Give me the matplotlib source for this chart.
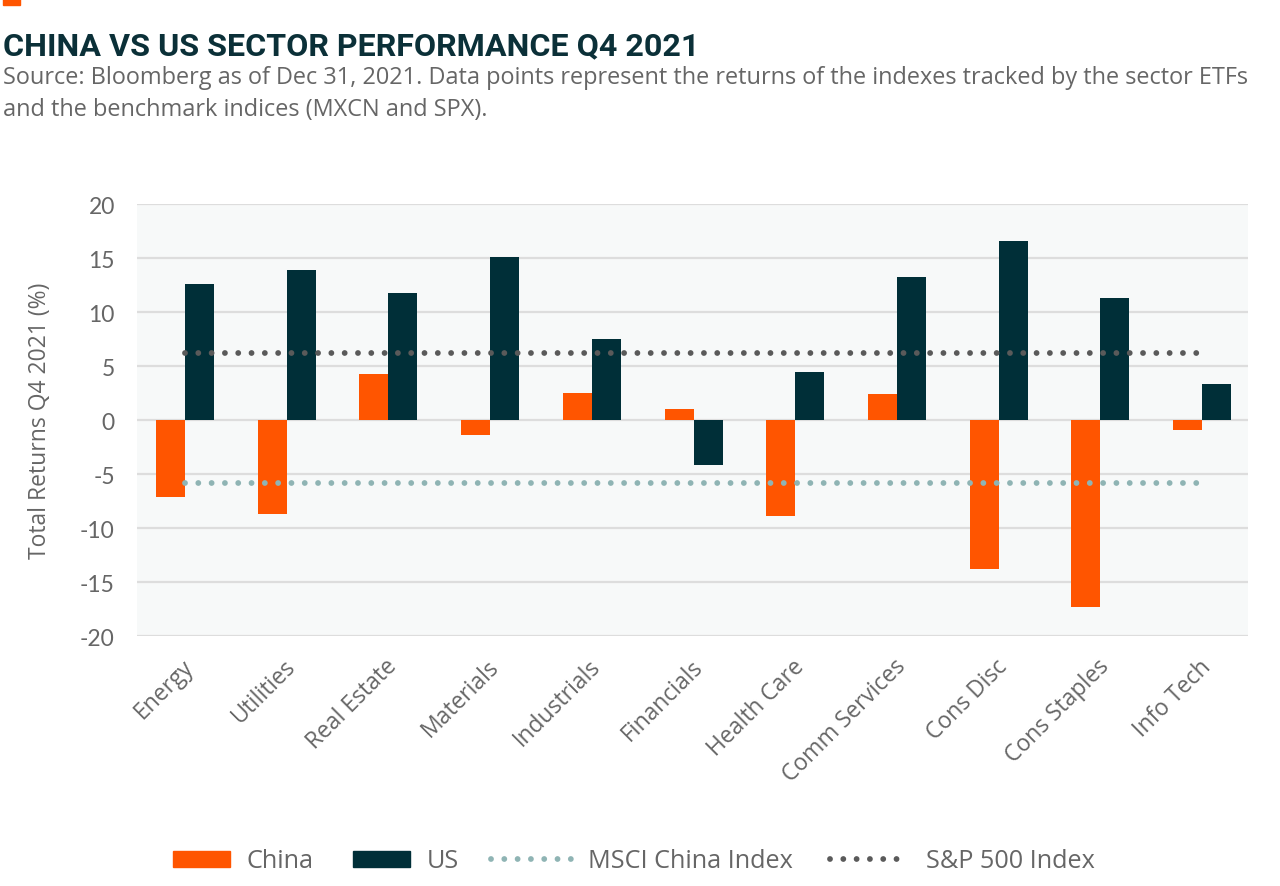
# -*- coding: utf-8 -*-

import numpy as np
import matplotlib as mpl
mpl.use("Agg")
import matplotlib.pyplot as plt
from matplotlib import font_manager
from matplotlib.patches import Patch, Rectangle
from matplotlib.lines import Line2D
import matplotlib.transforms as mtransforms

# 数据
sectors = ['Energy', 'Utilities', 'Real Estate', 'Materials', 'Industrials',
           'Financials', 'Health Care', 'Comm Services', 'Cons Disc',
           'Cons Staples', 'Info Tech']
china = [-7.1, -8.7, 4.3, -1.4, 2.5, 1.0, -8.9, 2.4, -13.8, -17.3, -0.9]
us = [12.6, 13.9, 11.8, 15.1, 7.5, -4.2, 4.4, 13.2, 16.6, 11.3, 3.3]
msci_china = -5.8
sp500 = 6.2
yticks = [20, 15, 10, 5, 0, -5, -10, -15, -20]

title = 'CHINA VS US SECTOR PERFORMANCE Q4 2021'
subtitle1 = ('Source: Bloomberg as of Dec 31, 2021. Data points represent the '
             'returns of the indexes tracked by the sector ETFs')
subtitle2 = 'and the benchmark indices (MXCN and SPX).'
ylabel = 'Total Returns Q4 2021 (%)'

c_china = '#FF5500'
c_us = '#002F38'
c_msci = '#8FB4B4'
c_sp = '#5A5A5A'
c_text = '#666666'
c_title = '#0B3038'

names = {f.name for f in font_manager.fontManager.ttflist}
title_font = 'Roboto' if 'Roboto' in names else 'DejaVu Sans'
body_font = 'Open Sans' if 'Open Sans' in names else 'DejaVu Sans'
num_font = 'Lato' if 'Lato' in names else 'DejaVu Sans'
tick_font = 'Open Sans' if 'Open Sans' in names else 'DejaVu Sans'

dot_style = dict(lw=4.2, linestyle=(0, (0.001, 2.28)), dash_capstyle='round')


def main():
    fig = plt.figure(figsize=(12.8, 8.87), dpi=100)
    ax = fig.add_axes([137 / 1280., 1 - 637 / 887., 1111 / 1280., 432 / 887.])

    x = np.arange(len(sectors))
    bw = 0.285
    ax.bar(x - bw / 2, china, width=bw, color=c_china, zorder=3)
    ax.bar(x + bw / 2, us, width=bw, color=c_us, zorder=3)

    ax.plot([x[0], x[-1]], [msci_china, msci_china], color=c_msci, zorder=4, **dot_style)
    ax.plot([x[0], x[-1]], [sp500, sp500], color=c_sp, zorder=4, **dot_style)

    ax.set_facecolor('#F7F9F9')
    ax.set_xlim(-0.47, 10.45)
    ax.set_ylim(-20, 20)
    ax.set_yticks(yticks)
    ax.set_yticklabels([str(v) for v in yticks], fontsize=16.5,
                       color=c_text, family=num_font)
    ax.yaxis.grid(True, color='#DDDDDD', lw=1.6, zorder=0)
    ax.set_axisbelow(True)
    for s in ax.spines.values():
        s.set_visible(False)
    ax.tick_params(axis='both', length=0)
    ax.tick_params(axis='y', pad=16)

    ax.set_xticks(x)
    ax.set_xticklabels(sectors, rotation=45, ha='right', va='top',
                       rotation_mode='anchor', fontsize=16.5, color=c_text,
                       family=tick_font)
    ax.tick_params(axis='x', pad=13)
    off = mtransforms.ScaledTranslation(-3 / 100., 0, fig.dpi_scale_trans)
    for lab in ax.get_xticklabels():
        lab.set_transform(lab.get_transform() + off)

    ax.set_ylabel(ylabel, fontsize=16.5, color=c_text, family=body_font)
    ax.yaxis.set_label_coords(-0.0765, 0.5)

    # 标题
    fig.patches.append(Rectangle((3 / 1280., 1 - 6 / 887.), 17 / 1280., 6 / 887.,
                                 transform=fig.transFigure, color=c_china))
    fig.text(3 / 1280., 1 - 55 / 887., title, fontsize=23.2, fontweight='bold',
             color=c_title, family=title_font, va='baseline', ha='left')
    fig.text(3 / 1280., 1 - 84 / 887., subtitle1, fontsize=16.9,
             color=c_text, family=body_font, va='baseline', ha='left')
    fig.text(3 / 1280., 1 - 116 / 887., subtitle2, fontsize=16.9,
             color=c_text, family=body_font, va='baseline', ha='left')

    # 图例: 色块和虚线长度不同, 分成两个 legend
    fs = 18.2
    leg_y = 1 - 862 / 887.
    h_bar = [Patch(color=c_china, label='China'), Patch(color=c_us, label='US')]
    h_line = [Line2D([], [], color=c_msci, label='MSCI China Index', **dot_style),
              Line2D([], [], color=c_sp, label='S&P 500 Index', **dot_style)]
    leg1 = fig.legend(handles=h_bar, loc='center left', bbox_to_anchor=(173 / 1280., leg_y),
                      ncol=2, frameon=False, handlelength=2.25, handleheight=0.6,
                      handletextpad=0.67, columnspacing=1.54, borderpad=0,
                      borderaxespad=0, prop={'family': body_font, 'size': fs})
    leg2 = fig.legend(handles=h_line, loc='center left', bbox_to_anchor=(491 / 1280., leg_y),
                      ncol=2, frameon=False, handlelength=3.16,
                      handletextpad=0.67, columnspacing=1.46, borderpad=0,
                      borderaxespad=0, prop={'family': body_font, 'size': fs})
    for leg in (leg1, leg2):
        for t in leg.get_texts():
            t.set_color(c_text)

    fig.savefig('out.png', dpi=100)
    plt.close(fig)


if __name__ == '__main__':
    main()
